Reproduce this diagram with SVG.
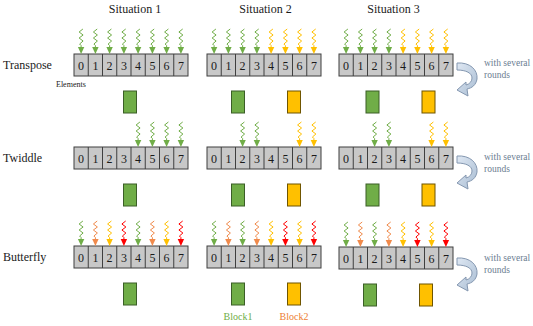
<svg xmlns="http://www.w3.org/2000/svg" xmlns:xlink="http://www.w3.org/1999/xlink" width="533" height="326" viewBox="0 0 533 326">
<style>
text{font-family:"Liberation Serif","Times New Roman",serif;fill:#1a1a1a}
.lbl{font-size:12px}
.hdr{font-size:12px}
.dg{font-size:12px;text-anchor:middle}
.note{font-size:9.5px;fill:#6b7d91}
.g{color:#70ad47}.y{color:#ffc000}.o{color:#f08a4b}.r{color:#ff0000}
.bg{fill:#70ad47;stroke:#3b5e27;stroke-width:1}
.bo{fill:#ffc000;stroke:#6f5500;stroke-width:1}
.cell{fill:#c8c8c8;stroke:#3f3f3f;stroke-width:1}
.rnd{fill:url(#rg);stroke:#8497b0;stroke-width:1}
</style>
<defs>
<linearGradient id="rg" x1="0" y1="0" x2="1" y2="1">
<stop offset="0" stop-color="#dfe8f3"/><stop offset="1" stop-color="#a9bdd3"/>
</linearGradient>
<g id="sq">
<polyline points="1.8,0 -2,3 2,6 -2,9 2,12 -1.5,15 0,16.5 0,19" fill="none" stroke="currentColor" stroke-width="1" stroke-linejoin="round"/>
<polygon points="-3.2,18 3.2,18 0,25" fill="currentColor"/>
</g>
<g id="arr">
<rect x="0" y="0" width="114" height="22" class="cell"/>
<path d="M14.25,0v22M28.5,0v22M42.75,0v22M57,0v22M71.25,0v22M85.5,0v22M99.75,0v22" stroke="#3f3f3f" stroke-width="1"/>
</g>
<path id="rnd" d="M457,63 C470,62 478,70 477,79 C476,85 472,88 467,89 L468,96 L457,90 L466,82 L466,85 C470,84 472,81 472,78 C472,73 466,70 457,70 Z"/>
</defs>

<g id="headers">
<text class="hdr" x="135" y="13" text-anchor="middle">Situation 1</text>
<text class="hdr" x="265.5" y="13" text-anchor="middle">Situation 2</text>
<text class="hdr" x="393.5" y="13" text-anchor="middle">Situation 3</text>
</g>
<g id="row-labels">
<text class="lbl" x="3" y="69">Transpose</text>
<text class="lbl" x="3" y="162">Twiddle</text>
<text class="lbl" x="3" y="261">Butterfly</text>
<text x="56" y="87" style="font-size:8px">Elements</text>
</g>

<g id="arrays">
<g id="a11" transform="translate(74,54)"><use xlink:href="#arr"/><text class="dg" x="7.1" y="16">0</text><text class="dg" x="21.4" y="16">1</text><text class="dg" x="35.6" y="16">2</text><text class="dg" x="49.9" y="16">3</text><text class="dg" x="64.1" y="16">4</text><text class="dg" x="78.4" y="16">5</text><text class="dg" x="92.6" y="16">6</text><text class="dg" x="106.9" y="16">7</text></g>
<g id="a12" transform="translate(207,54)"><use xlink:href="#arr"/><text class="dg" x="7.1" y="16">0</text><text class="dg" x="21.4" y="16">1</text><text class="dg" x="35.6" y="16">2</text><text class="dg" x="49.9" y="16">3</text><text class="dg" x="64.1" y="16">4</text><text class="dg" x="78.4" y="16">5</text><text class="dg" x="92.6" y="16">6</text><text class="dg" x="106.9" y="16">7</text></g>
<g id="a13" transform="translate(339,54)"><use xlink:href="#arr"/><text class="dg" x="7.1" y="16">0</text><text class="dg" x="21.4" y="16">1</text><text class="dg" x="35.6" y="16">2</text><text class="dg" x="49.9" y="16">3</text><text class="dg" x="64.1" y="16">4</text><text class="dg" x="78.4" y="16">5</text><text class="dg" x="92.6" y="16">6</text><text class="dg" x="106.9" y="16">7</text></g>
<g id="a21" transform="translate(74,147)"><use xlink:href="#arr"/><text class="dg" x="7.1" y="16">0</text><text class="dg" x="21.4" y="16">1</text><text class="dg" x="35.6" y="16">2</text><text class="dg" x="49.9" y="16">3</text><text class="dg" x="64.1" y="16">4</text><text class="dg" x="78.4" y="16">5</text><text class="dg" x="92.6" y="16">6</text><text class="dg" x="106.9" y="16">7</text></g>
<g id="a22" transform="translate(207,147)"><use xlink:href="#arr"/><text class="dg" x="7.1" y="16">0</text><text class="dg" x="21.4" y="16">1</text><text class="dg" x="35.6" y="16">2</text><text class="dg" x="49.9" y="16">3</text><text class="dg" x="64.1" y="16">4</text><text class="dg" x="78.4" y="16">5</text><text class="dg" x="92.6" y="16">6</text><text class="dg" x="106.9" y="16">7</text></g>
<g id="a23" transform="translate(339,147)"><use xlink:href="#arr"/><text class="dg" x="7.1" y="16">0</text><text class="dg" x="21.4" y="16">1</text><text class="dg" x="35.6" y="16">2</text><text class="dg" x="49.9" y="16">3</text><text class="dg" x="64.1" y="16">4</text><text class="dg" x="78.4" y="16">5</text><text class="dg" x="92.6" y="16">6</text><text class="dg" x="106.9" y="16">7</text></g>
<g id="a31" transform="translate(74,246)"><use xlink:href="#arr"/><text class="dg" x="7.1" y="16">0</text><text class="dg" x="21.4" y="16">1</text><text class="dg" x="35.6" y="16">2</text><text class="dg" x="49.9" y="16">3</text><text class="dg" x="64.1" y="16">4</text><text class="dg" x="78.4" y="16">5</text><text class="dg" x="92.6" y="16">6</text><text class="dg" x="106.9" y="16">7</text></g>
<g id="a32" transform="translate(207,246)"><use xlink:href="#arr"/><text class="dg" x="7.1" y="16">0</text><text class="dg" x="21.4" y="16">1</text><text class="dg" x="35.6" y="16">2</text><text class="dg" x="49.9" y="16">3</text><text class="dg" x="64.1" y="16">4</text><text class="dg" x="78.4" y="16">5</text><text class="dg" x="92.6" y="16">6</text><text class="dg" x="106.9" y="16">7</text></g>
<g id="a33" transform="translate(339,247)"><use xlink:href="#arr"/><text class="dg" x="7.1" y="16">0</text><text class="dg" x="21.4" y="16">1</text><text class="dg" x="35.6" y="16">2</text><text class="dg" x="49.9" y="16">3</text><text class="dg" x="64.1" y="16">4</text><text class="dg" x="78.4" y="16">5</text><text class="dg" x="92.6" y="16">6</text><text class="dg" x="106.9" y="16">7</text></g>
</g>

<g id="blocks">
<g id="b11"><rect class="bg" x="123.5" y="91" width="13" height="22"/></g>
<g id="b12"><rect class="bg" x="231.5" y="91" width="13" height="22"/><rect class="bo" x="287.5" y="91" width="13" height="22"/></g>
<g id="b13"><rect class="bg" x="366" y="91" width="13" height="22"/><rect class="bo" x="422" y="91" width="13" height="22"/></g>
<g id="b21"><rect class="bg" x="123.5" y="184" width="13" height="22"/></g>
<g id="b22"><rect class="bg" x="231.5" y="184" width="13" height="22"/><rect class="bo" x="287.5" y="184" width="13" height="22"/></g>
<g id="b23"><rect class="bg" x="366" y="184" width="13" height="22"/><rect class="bo" x="422" y="184" width="13" height="22"/></g>
<g id="b31"><rect class="bg" x="123.5" y="283" width="13" height="22"/></g>
<g id="b32"><rect class="bg" x="231.5" y="283" width="13" height="22"/><rect class="bo" x="287.5" y="283" width="13" height="22"/></g>
<g id="b33"><rect class="bg" x="363.5" y="284" width="13" height="22"/><rect class="bo" x="419.5" y="284" width="13" height="22"/></g>
<text x="238" y="320" text-anchor="middle" style="font-size:10px;fill:#70ad47">Block1</text>
<text x="294" y="320" text-anchor="middle" style="font-size:10px;fill:#ed7d31">Block2</text>
</g>

<g id="notes">
<text class="note" x="484" y="66">with several</text><text class="note" x="484" y="78">rounds</text>
<text class="note" x="484" y="160">with several</text><text class="note" x="484" y="172">rounds</text>
<text class="note" x="484" y="261">with several</text><text class="note" x="484" y="273">rounds</text>
</g>

<g id="connectors">
<!-- Transpose -->
<use xlink:href="#sq" class="g" transform="translate(81.1,29)"/><use xlink:href="#sq" class="g" transform="translate(95.4,29)"/><use xlink:href="#sq" class="g" transform="translate(109.6,29)"/><use xlink:href="#sq" class="g" transform="translate(123.9,29)"/><use xlink:href="#sq" class="g" transform="translate(138.1,29)"/><use xlink:href="#sq" class="g" transform="translate(152.4,29)"/><use xlink:href="#sq" class="g" transform="translate(166.6,29)"/><use xlink:href="#sq" class="g" transform="translate(180.9,29)"/>
<use xlink:href="#sq" class="g" transform="translate(214.1,29)"/><use xlink:href="#sq" class="g" transform="translate(228.4,29)"/><use xlink:href="#sq" class="g" transform="translate(242.6,29)"/><use xlink:href="#sq" class="g" transform="translate(256.9,29)"/><use xlink:href="#sq" class="y" transform="translate(271.1,29)"/><use xlink:href="#sq" class="y" transform="translate(285.4,29)"/><use xlink:href="#sq" class="y" transform="translate(299.6,29)"/><use xlink:href="#sq" class="y" transform="translate(313.9,29)"/>
<use xlink:href="#sq" class="g" transform="translate(346.1,29)"/><use xlink:href="#sq" class="g" transform="translate(360.4,29)"/><use xlink:href="#sq" class="g" transform="translate(374.6,29)"/><use xlink:href="#sq" class="g" transform="translate(388.9,29)"/><use xlink:href="#sq" class="y" transform="translate(403.1,29)"/><use xlink:href="#sq" class="y" transform="translate(417.4,29)"/><use xlink:href="#sq" class="y" transform="translate(431.6,29)"/><use xlink:href="#sq" class="y" transform="translate(445.9,29)"/>
<!-- Twiddle -->
<use xlink:href="#sq" class="g" transform="translate(138.1,122)"/><use xlink:href="#sq" class="g" transform="translate(152.4,122)"/><use xlink:href="#sq" class="g" transform="translate(166.6,122)"/><use xlink:href="#sq" class="g" transform="translate(180.9,122)"/>
<use xlink:href="#sq" class="g" transform="translate(242.6,122)"/><use xlink:href="#sq" class="g" transform="translate(256.9,122)"/><use xlink:href="#sq" class="y" transform="translate(299.6,122)"/><use xlink:href="#sq" class="y" transform="translate(313.9,122)"/>
<use xlink:href="#sq" class="g" transform="translate(374.6,122)"/><use xlink:href="#sq" class="g" transform="translate(388.9,122)"/><use xlink:href="#sq" class="y" transform="translate(431.6,122)"/><use xlink:href="#sq" class="y" transform="translate(445.9,122)"/>
<!-- Butterfly -->
<use xlink:href="#sq" class="g" transform="translate(81.1,221)"/><use xlink:href="#sq" class="o" transform="translate(95.4,221)"/><use xlink:href="#sq" class="y" transform="translate(109.6,221)"/><use xlink:href="#sq" class="r" transform="translate(123.9,221)"/><use xlink:href="#sq" class="g" transform="translate(138.1,221)"/><use xlink:href="#sq" class="o" transform="translate(152.4,221)"/><use xlink:href="#sq" class="y" transform="translate(166.6,221)"/><use xlink:href="#sq" class="r" transform="translate(180.9,221)"/>
<use xlink:href="#sq" class="g" transform="translate(214.1,221)"/><use xlink:href="#sq" class="o" transform="translate(228.4,221)"/><use xlink:href="#sq" class="g" transform="translate(242.6,221)"/><use xlink:href="#sq" class="o" transform="translate(256.9,221)"/><use xlink:href="#sq" class="y" transform="translate(271.1,221)"/><use xlink:href="#sq" class="r" transform="translate(285.4,221)"/><use xlink:href="#sq" class="y" transform="translate(299.6,221)"/><use xlink:href="#sq" class="r" transform="translate(313.9,221)"/>
<use xlink:href="#sq" class="g" transform="translate(346.1,222)"/><use xlink:href="#sq" class="o" transform="translate(360.4,222)"/><use xlink:href="#sq" class="g" transform="translate(374.6,222)"/><use xlink:href="#sq" class="o" transform="translate(388.9,222)"/><use xlink:href="#sq" class="y" transform="translate(403.1,222)"/><use xlink:href="#sq" class="r" transform="translate(417.4,222)"/><use xlink:href="#sq" class="y" transform="translate(431.6,222)"/><use xlink:href="#sq" class="r" transform="translate(445.9,222)"/>
<!-- rounds arrows -->
<use xlink:href="#rnd" class="rnd"/>
<use xlink:href="#rnd" class="rnd" transform="translate(0,93)"/>
<use xlink:href="#rnd" class="rnd" transform="translate(0,195)"/>
</g>
</svg>
